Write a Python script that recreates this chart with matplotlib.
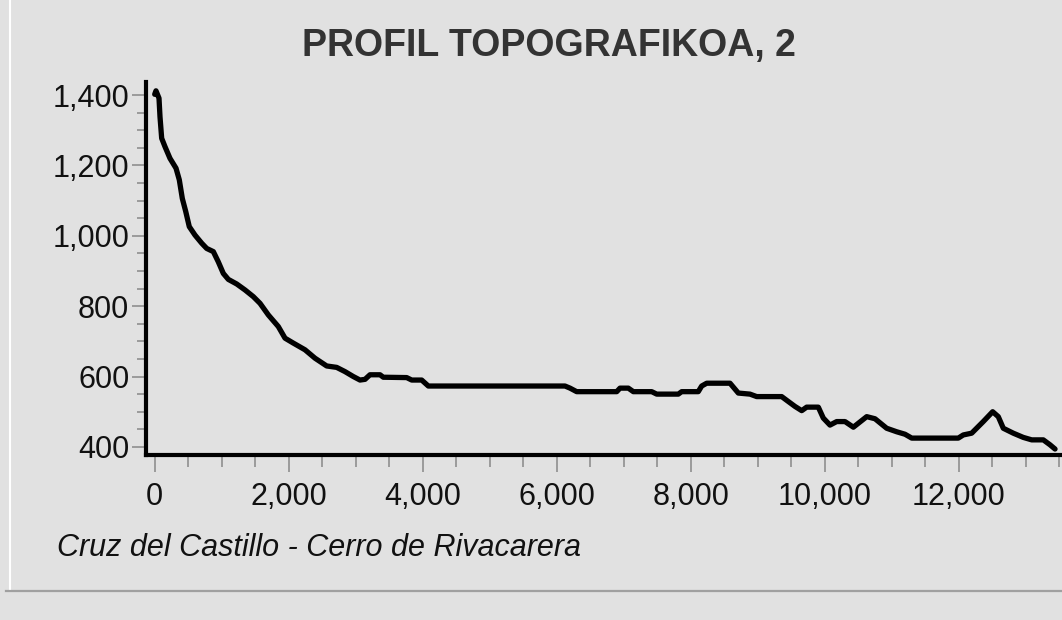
import matplotlib
matplotlib.use("Agg")
import matplotlib.pyplot as plt
from matplotlib.ticker import FuncFormatter, MultipleLocator
from matplotlib.lines import Line2D

# distance along profile (m) and elevation (m)
distance = [0, 19, 64, 79, 104, 154, 228, 318, 367, 412, 463, 516, 601, 701, 776,
            875, 949, 1024, 1099, 1224, 1348, 1472, 1572, 1696, 1845, 1945, 2069,
            2243, 2393, 2567, 2716, 2840, 2964, 3064, 3139, 3213, 3363, 3412, 3761,
            3836, 3985, 4084, 6124, 6199, 6298, 6896, 6945, 7069, 7144, 7418, 7493,
            7815, 7866, 8113, 8164, 8239, 8587, 8711, 8885, 8985, 9358, 9457, 9557,
            9657, 9731, 9905, 9979, 10079, 10179, 10303, 10428, 10627, 10751, 10925,
            11075, 11199, 11299, 11994, 12069, 12194, 12367, 12507, 12591, 12666,
            12815, 12964, 13090, 13263, 13363, 13438]
elevation = [1402, 1412, 1391, 1338, 1277, 1253, 1220, 1192, 1159, 1106, 1069, 1026,
             1002, 979, 964, 955, 926, 893, 876, 863, 846, 827, 808, 775, 742, 709,
             695, 676, 652, 630, 626, 614, 600, 590, 592, 605, 605, 598, 597, 590,
             590, 573, 573, 567, 557, 557, 567, 567, 557, 557, 550, 550, 557, 557,
             573, 581, 581, 553, 550, 543, 543, 529, 515, 503, 513, 513, 482, 462,
             472, 472, 456, 486, 480, 453, 443, 436, 425, 425, 434, 439, 472, 500,
             486, 453, 439, 427, 420, 420, 406, 394]

title = "PROFIL TOPOGRAFIKOA, 2"
subtitle = "Cruz del Castillo - Cerro de Rivacarera"

bg = "#e1e1e1"
plt.rcParams["font.family"] = ["Liberation Sans", "DejaVu Sans"]

fig = plt.figure(figsize=(10.62, 6.2), dpi=100, facecolor=bg)
ax = fig.add_axes([146 / 1062, 1 - 455 / 620, 1 - 146 / 1062, (455 - 82) / 620])
ax.set_facecolor(bg)

ax.plot(distance, elevation, color="black", lw=3.8, solid_joinstyle="round",
        solid_capstyle="round")

ax.set_xlim(-130, 13542)
ax.set_ylim(377, 1437)

for side in ("top", "right"):
    ax.spines[side].set_visible(False)
for side in ("left", "bottom"):
    ax.spines[side].set_linewidth(3)
    ax.spines[side].set_color("black")

ax.xaxis.set_major_locator(MultipleLocator(2000))
ax.xaxis.set_minor_locator(MultipleLocator(500))
ax.yaxis.set_major_locator(MultipleLocator(200))
ax.yaxis.set_minor_locator(MultipleLocator(50))
fmt = FuncFormatter(lambda v, p: f"{v:,.0f}")
ax.xaxis.set_major_formatter(fmt)
ax.yaxis.set_major_formatter(fmt)

ax.tick_params(which="both", width=1.1, color="#888888")
ax.tick_params(which="major", labelsize=22, labelcolor="#111111")
ax.tick_params(axis="x", which="major", length=12.5, pad=7)
ax.tick_params(axis="x", which="minor", length=8.5)
ax.tick_params(axis="y", which="major", length=10, pad=2)
ax.tick_params(axis="y", which="minor", length=6.5)

fig.text(0.517, 0.925, title, ha="center", va="center", fontsize=27,
         fontweight="bold", color="#333333")
fig.text(57 / 1062, 1 - 548 / 620, subtitle, ha="left", va="center",
         fontsize=22, style="italic", color="#111111")

# panel frame lines
fig.add_artist(Line2D([10 / 1062, 10 / 1062], [1 - 590 / 620, 1], color="white",
                      lw=1.5, transform=fig.transFigure))
fig.add_artist(Line2D([6 / 1062, 1], [1 - 591 / 620, 1 - 591 / 620],
                      color="#a0a0a0", lw=1.6, transform=fig.transFigure))

fig.savefig("out.png", dpi=100, facecolor=bg)
